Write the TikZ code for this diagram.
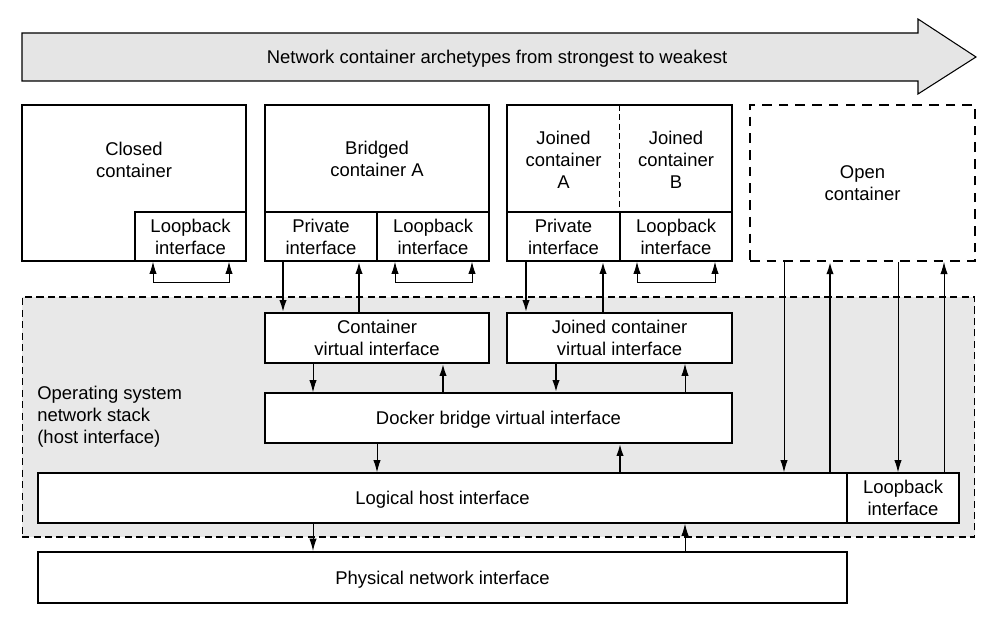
\documentclass[tikz,border=0pt]{standalone}
\usepackage{fontspec}
\setmainfont{Liberation Sans}
\usetikzlibrary{arrows.meta}

\tikzset{
  box/.style={rectangle, draw, fill=white, inner sep=0pt, align=center, line width=0.75pt},
  txt/.style={inner sep=0pt, align=center},
  oneline/.style={text depth=0pt},
  link/.style={-{Latex[length=7pt,width=4.2pt]}, line width=0.55pt},
  thicklink/.style={link, line width=1.1pt},
  loop/.style={{Latex[length=7pt,width=4.2pt]}-{Latex[length=7pt,width=4.2pt]}, line width=0.55pt}
}

\begin{document}
\begin{tikzpicture}[x=0.02cm, y=-0.02cm, every node/.style={font=\fontsize{10.5}{12.6}\selectfont}]
  \useasboundingbox (0,0) rectangle (1000,624);
  % Header
  \draw[fill=black!10, line width=0.6pt] (22,33) -- (918,33) -- (918,19) -- (976,57) -- (918,94) -- (918,81) -- (22,81) -- cycle;
  \node (head) [txt, oneline] at (497,57) {Network container archetypes from strongest to weakest};
  % Host
  \node (os) [rectangle, draw, dashed, dash pattern=on 4pt off 2.5pt, fill=black!9, minimum width=19.06cm, minimum height=4.8cm, line width=0.6pt] at (498.5,417) {};
  \node (oslabel) [txt, align=left, anchor=west] at (37,417) {Operating system\\network stack\\(host interface)};
  % Containers
  \node (closed) [box, minimum width=4.48cm, minimum height=3.12cm] at (134,183) {};
  \node (closedtxt) [txt] at (134,160) {Closed\\container};
  \node (cloop) [box, minimum width=2.22cm, minimum height=0.98cm] at (190.5,236.5) {Loopback\\interface};
  \node (bridged) [box, minimum width=4.48cm, minimum height=3.12cm] at (377,183) {};
  \node (bridgedtxt) [txt] at (377,159) {Bridged\\container A};
  \node (bpriv) [box, minimum width=2.24cm, minimum height=0.98cm] at (321,236.5) {Private\\interface};
  \node (bloop) [box, minimum width=2.24cm, minimum height=0.98cm] at (433,236.5) {Loopback\\interface};
  \node (joined) [box, minimum width=4.5cm, minimum height=3.12cm] at (619.5,183) {};
  \node (jtxta) [txt] at (563.5,160) {Joined\\container\\A};
  \node (jtxtb) [txt] at (676,160) {Joined\\container\\B};
  \node (jpriv) [box, minimum width=2.26cm, minimum height=0.98cm] at (563.5,236.5) {Private\\interface};
  \node (jloop) [box, minimum width=2.24cm, minimum height=0.98cm] at (676,236.5) {Loopback\\interface};
  \draw[dashed, dash pattern=on 3.5pt off 2pt, line width=0.9pt] (joined.north -| jloop.north west) -- (jloop.north west);
  \node (open) [box, dashed, dash pattern=on 5.5pt off 4pt, line width=1pt, minimum width=4.5cm, minimum height=3.12cm] at (862.5,183) {Open\\container};
  % Interfaces
  \node (cvi) [box, minimum width=4.48cm, minimum height=1cm] at (377,338) {Container\\virtual interface};
  \node (jvi) [box, minimum width=4.5cm, minimum height=1cm] at (619.5,338) {Joined container\\virtual interface};
  \node (docker) [box, oneline, minimum width=9.34cm, minimum height=1cm] at (498.5,418) {Docker bridge virtual interface};
  \node (logical) [box, oneline, minimum width=16.18cm, minimum height=1cm] at (442.5,498) {Logical host interface};
  \node (hloop) [box, minimum width=2.24cm, minimum height=1cm] at (903,498) {Loopback\\interface};
  \node (phys) [box, oneline, line width=1.2pt, minimum width=16.18cm, minimum height=1.02cm] at (442.5,577.5) {Physical network interface};
  % Arrows
  \draw[loop] (cloop.south -| 153,0) -- (153,282) -- (229,282) -- (cloop.south -| 229,0);
  \draw[loop] (bloop.south -| 395,0) -- (395,282) -- (472,282) -- (bloop.south -| 472,0);
  \draw[loop] (jloop.south -| 637,0) -- (637,282) -- (715,282) -- (jloop.south -| 715,0);
  \draw[thicklink] (bpriv.south -| 283,0) -- (cvi.north -| 283,0);
  \draw[thicklink] (cvi.north -| 359,0) -- (bpriv.south -| 359,0);
  \draw[thicklink] (jpriv.south -| 526,0) -- (jvi.north -| 526,0);
  \draw[thicklink] (jvi.north -| 603,0) -- (jpriv.south -| 603,0);
  \draw[link] (cvi.south -| 313,0) -- (docker.north -| 313,0);
  \draw[thicklink] (docker.north -| 443,0) -- (cvi.south -| 443,0);
  \draw[thicklink] (jvi.south -| 556,0) -- (docker.north -| 556,0);
  \draw[link] (docker.north -| 685,0) -- (jvi.south -| 685,0);
  \draw[link] (docker.south -| 377,0) -- (logical.north -| 377,0);
  \draw[thicklink] (logical.north -| 620,0) -- (docker.south -| 620,0);
  \draw[link] (logical.south -| 313,0) -- (phys.north -| 313,0);
  \draw[link] (phys.north -| 685,0) -- (logical.south -| 685,0);
  \draw[link] (open.south -| 784,0) -- (logical.north -| 784,0);
  \draw[thicklink] (logical.north -| 830,0) -- (open.south -| 830,0);
  \draw[link] (open.south -| 898,0) -- (hloop.north -| 898,0);
  \draw[link] (hloop.north -| 944,0) -- (open.south -| 944,0);
\end{tikzpicture}
\end{document}
